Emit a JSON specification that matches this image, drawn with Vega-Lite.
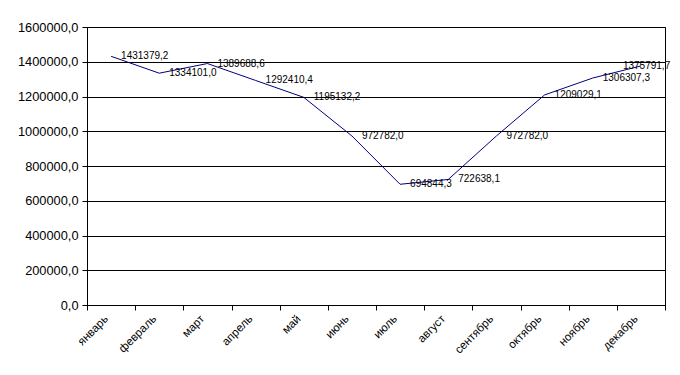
{
  "$schema": "https://vega.github.io/schema/vega-lite/v6.json",
  "width": 578,
  "height": 278,
  "autosize": {"type": "none"},
  "padding": {"left": 87, "top": 27, "right": 15, "bottom": 70},
  "background": "white",
  "config": {
    "locale": {"number": {"decimal": ",", "thousands": "", "grouping": [3], "currency": ["", ""]}},
    "view": {"stroke": "black", "strokeWidth": 1},
    "font": "Liberation Sans",
    "axis": {"domainColor": "black", "tickColor": "black", "labelColor": "black", "gridColor": "black", "gridOpacity": 1, "labelFont": "Liberation Sans", "titleFont": "Liberation Sans"}
  },
  "data": {"values": [
    {"month": "январь", "value": 1431379.2},
    {"month": "февраль", "value": 1334101.0},
    {"month": "март", "value": 1389688.6},
    {"month": "апрель", "value": 1292410.4},
    {"month": "май", "value": 1195132.2},
    {"month": "июнь", "value": 972782.0},
    {"month": "июль", "value": 694844.3},
    {"month": "август", "value": 722638.1},
    {"month": "сентябрь", "value": 972782.0},
    {"month": "октябрь", "value": 1209029.1},
    {"month": "ноябрь", "value": 1306307.3},
    {"month": "декабрь", "value": 1375791.7}
  ]},
  "encoding": {
    "x": {
      "field": "month", "type": "nominal", "sort": null,
      "scale": {"type": "band", "paddingInner": 0, "paddingOuter": 0},
      "axis": {"title": null, "labelAngle": -45, "labelAlign": "right", "labelBaseline": "middle", "labelFontSize": 11.5, "tickSize": 5, "tickBand": "extent", "labelPadding": 7, "labelOffset": -5, "grid": false, "domainWidth": 1}
    },
    "y": {
      "field": "value", "type": "quantitative",
      "scale": {"domain": [0, 1600000], "nice": false},
      "axis": {"title": null, "values": [0, 200000, 400000, 600000, 800000, 1000000, 1200000, 1400000, 1600000], "format": ".1f", "labelFontSize": 12.8, "tickSize": 5, "labelPadding": 4, "grid": true, "gridWidth": 1}
    }
  },
  "layer": [
    {"mark": {"type": "line", "color": "#000080", "strokeWidth": 1}},
    {
      "transform": [{"filter": "datum.month !== 'декабрь'"}],
      "mark": {"type": "text", "align": "left", "baseline": "middle", "dx": 10, "fontSize": 10, "color": "black"},
      "encoding": {"text": {"field": "value", "type": "quantitative", "format": ".1f"}}
    },
    {
      "transform": [{"filter": "datum.month === 'декабрь'"}],
      "mark": {"type": "text", "align": "left", "baseline": "middle", "dx": -18, "fontSize": 10, "color": "black"},
      "encoding": {"text": {"field": "value", "type": "quantitative", "format": ".1f"}}
    }
  ]
}
